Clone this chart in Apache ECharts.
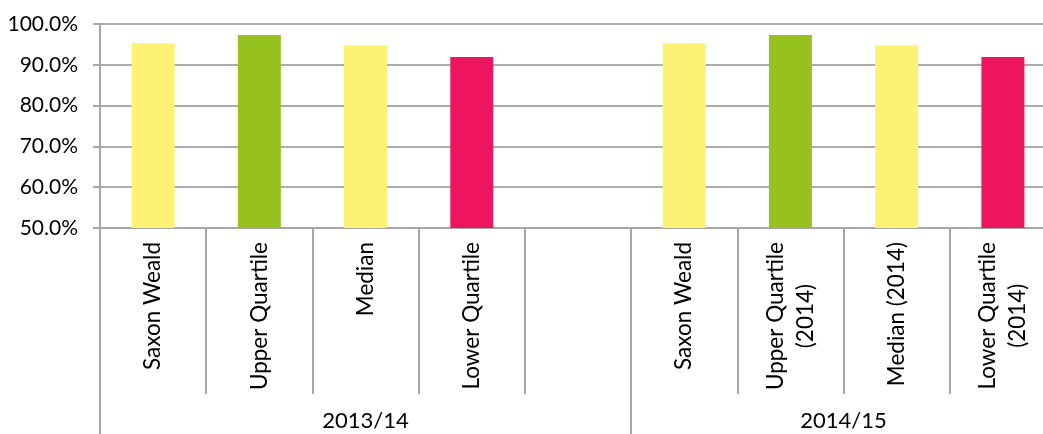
<!DOCTYPE html>
<html>
<head>
<meta charset="utf-8">
<script src="https://cdn.jsdelivr.net/npm/echarts@6/dist/echarts.min.js"></script>
<style>
html,body{margin:0;padding:0;background:#fff;}
#chart{width:1043px;height:434px;}
</style>
</head>
<body>
<div id="chart"></div>
<script>
// ---- data ----
var categories = ['Saxon Weald', 'Upper Quartile', 'Median', 'Lower Quartile', '',
                  'Saxon Weald', 'Upper Quartile\n(2014)', 'Median (2014)', 'Lower Quartile\n(2014)'];
var values = [95.3, 97.3, 94.8, 91.9, null, 95.3, 97.3, 94.8, 91.9];
var kinds = ['own', 'upper', 'median', 'lower', 'none', 'own', 'upper', 'median', 'lower'];
var groupLabels = ['2013/14', '2014/15'];
var groupSizes = [5, 4];
var yTicks = [50, 60, 70, 80, 90, 100];

// ---- styles ----
var kindColors = { own: '#FDF274', upper: '#96C11F', median: '#FDF274', lower: '#EE1560', none: 'transparent' };
var FONT = 'Lato';
var FS = 21;
var FSC = 22.5;

var groupBounds = [0];
groupSizes.forEach(function (s, i) { groupBounds.push(groupBounds[i] + s); });
var groupCenters = groupSizes.map(function (s, i) { return groupBounds[i] + s / 2; });

var chart = echarts.init(document.getElementById('chart'), null, { renderer: 'canvas' });
chart.setOption({
  animation: false,
  backgroundColor: '#ffffff',
  grid: { left: 100, top: 24, width: 956, height: 204, containLabel: false, outerBoundsMode: 'none' },
  xAxis: [{
    type: 'category',
    data: categories,
    boundaryGap: true,
    axisLine: { show: true, lineStyle: { color: '#a6a6a6', width: 2 } },
    axisTick: { show: true, interval: 0, length: 166, lineStyle: { color: '#a6a6a6', width: 2 } },
    axisLabel: {
      interval: 0, rotate: 90, margin: 14, color: '#000', fontFamily: FONT, fontSize: FSC,
      lineHeight: 30,
      formatter: function (v) {
        if (v.indexOf('\n') < 0) return v;
        return v.split('\n').map(function (s) { return '{c|' + s + '}'; }).join('\n');
      },
      rich: { c: { align: 'center', fontFamily: FONT, fontSize: FSC, color: '#000', lineHeight: 30 } }
    },
    splitLine: { show: false }
  }, {
    type: 'value',
    min: 0, max: groupBounds[groupBounds.length - 1],
    position: 'bottom',
    axisLine: { show: false },
    axisTick: { show: true, customValues: groupBounds, length: 210, lineStyle: { color: '#a6a6a6', width: 2 } },
    axisLabel: {
      customValues: groupCenters, margin: 182, color: '#000', fontFamily: FONT, fontSize: 22,
      formatter: function (v) {
        var i = groupCenters.indexOf(v);
        return i >= 0 ? groupLabels[i] : '';
      }
    },
    splitLine: { show: false }
  }],
  yAxis: {
    type: 'value',
    min: yTicks[0], max: yTicks[yTicks.length - 1], interval: yTicks[1] - yTicks[0],
    axisLine: { show: true, lineStyle: { color: '#a6a6a6', width: 2 } },
    axisTick: { show: true, length: 7, lineStyle: { color: '#a6a6a6', width: 2 } },
    axisLabel: {
      margin: 22, color: '#000', fontFamily: FONT, fontSize: FS,
      formatter: function (v) { return v.toFixed(1) + '%'; }
    },
    splitLine: { show: true, lineStyle: { color: '#acacac', width: 2 } }
  },
  series: [{
    type: 'bar',
    barWidth: 43,
    data: values.map(function (v, i) {
      return { value: v, itemStyle: { color: kindColors[kinds[i]] } };
    })
  }]
});
</script>
</body>
</html>
